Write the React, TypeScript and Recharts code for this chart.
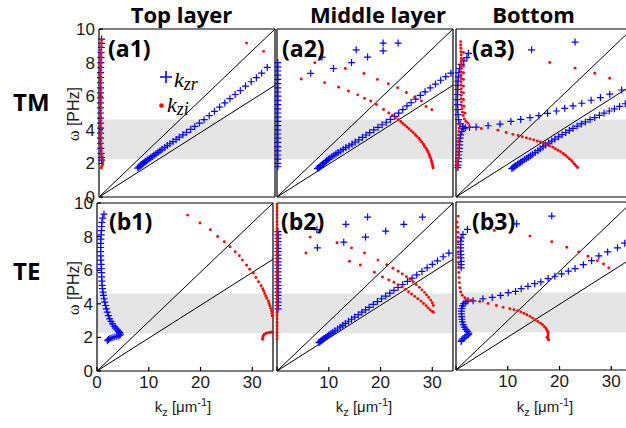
import React from "react";
import { ScatterChart, Scatter, XAxis, YAxis, ReferenceArea } from "recharts";

type Pt = [number, number]; // [kz in um^-1, omega in PHz]

const kTicks = [0, 10, 20, 30];
const omegaTicks = [0, 2, 4, 6, 8, 10];
const kDomain: [number, number] = [0, 34];
const omegaDomain: [number, number] = [0, 10];
const bandOmega: [number, number] = [2.25, 4.62];

// light lines (vacuum and substrate)
const lightLine: Pt[] = [[0, 0], [34, 10]];
const glassLine: Pt[] = [[0, 0], [34, 6.65]];

const columnTitles = ["Top layer", "Middle layer", "Bottom"];
const rowTitles = ["TM", "TE"];

// ---- (a1) top layer, TM ----
const a1Kzr: Pt[] = [
  [0.5, 9.4], [0.5, 9.15], [0.45, 8.9], [0.4, 8.6], [0.4, 8.3], [0.35, 8.0], [0.35, 7.7], [0.3, 7.4],
  [0.3, 7.1], [0.3, 6.8], [0.3, 6.5], [0.3, 6.2], [0.3, 5.9], [0.3, 5.6], [0.3, 5.3], [0.3, 5.0],
  [0.3, 4.7], [0.3, 4.4], [0.3, 4.1], [0.3, 3.8], [0.3, 3.5], [0.3, 3.2], [0.35, 2.9], [0.4, 2.6],
  [0.45, 2.35], [0.5, 2.2],
  [7.5, 1.72], [7.7, 1.78], [7.9, 1.84], [8.1, 1.9], [8.3, 1.95], [8.5, 2.0], [8.7, 2.05], [8.9, 2.1],
  [9.1, 2.15], [9.4, 2.2], [9.7, 2.27], [10.0, 2.34], [10.3, 2.41], [10.6, 2.48], [11.0, 2.57],
  [11.4, 2.66], [11.8, 2.75], [12.2, 2.84], [12.7, 2.95], [13.2, 3.06], [13.7, 3.17], [14.3, 3.3],
  [14.9, 3.43], [15.5, 3.56], [16.2, 3.7], [16.9, 3.85], [17.7, 4.02], [18.5, 4.2], [19.4, 4.4],
  [20.3, 4.6], [21.3, 4.84], [22.3, 5.1], [23.3, 5.35], [24.3, 5.6], [25.3, 5.85], [26.3, 6.1],
  [27.3, 6.34], [28.3, 6.6], [29.4, 6.86], [30.4, 7.1], [31.4, 7.37], [32.5, 7.71],
];
const a1Kzi: Pt[] = [
  [0.5, 9.35], [0.45, 9.15], [0.45, 8.95], [0.4, 8.75], [0.4, 8.55], [0.4, 8.35], [0.4, 8.15],
  [0.35, 7.95], [0.35, 7.75], [0.35, 7.55], [0.35, 7.35], [0.35, 7.15], [0.35, 6.95], [0.35, 6.75],
  [0.35, 6.55], [0.35, 6.35], [0.35, 6.15], [0.35, 5.95], [0.35, 5.75], [0.35, 5.55], [0.35, 5.35],
  [0.35, 5.15], [0.35, 4.95], [0.35, 4.75], [0.35, 4.55], [0.35, 4.35], [0.35, 4.15], [0.35, 3.95],
  [0.35, 3.75], [0.35, 3.55], [0.4, 3.35], [0.4, 3.15], [0.4, 2.95], [0.45, 2.75], [0.5, 2.55],
  [0.6, 2.4], [0.7, 2.25], [0.75, 2.1], [0.7, 1.95], [0.55, 1.82], [0.45, 1.72],
  [28.5, 9.16], [31.8, 8.67],
];

// ---- (a2) middle layer, TM ----
const a2Kzr: Pt[] = [
  [0.15, 8.0], [0.15, 7.75], [0.15, 7.5], [0.15, 7.25], [0.15, 7.0], [0.15, 6.75], [0.15, 6.5],
  [0.15, 6.25], [0.15, 6.0], [0.15, 5.75], [0.15, 5.5], [0.15, 5.25], [0.15, 5.0], [0.15, 4.75],
  [0.15, 4.5], [0.15, 4.25], [0.15, 4.0], [0.15, 3.75], [0.15, 3.5], [0.15, 3.25], [0.15, 3.0],
  [0.15, 2.75], [0.15, 2.5], [0.15, 2.25], [0.15, 2.0], [0.15, 1.8],
  [7.8, 1.69], [8.0, 1.74], [8.2, 1.79], [8.4, 1.84], [8.6, 1.89], [8.8, 1.95], [9.0, 2.0],
  [9.3, 2.08], [9.6, 2.16], [9.9, 2.24], [10.2, 2.31], [10.6, 2.4], [11.0, 2.49], [11.4, 2.57],
  [11.8, 2.65], [12.3, 2.74], [12.8, 2.84], [13.3, 2.94], [13.9, 3.04], [14.5, 3.15], [15.1, 3.27],
  [15.8, 3.4], [16.5, 3.55], [17.2, 3.69], [17.9, 3.83], [18.7, 3.99], [19.5, 4.15], [20.3, 4.3],
  [21.1, 4.45], [21.9, 4.62], [22.7, 4.8], [23.5, 4.99], [24.3, 5.2], [25.1, 5.42], [25.9, 5.62],
  [26.8, 5.83], [27.7, 6.05], [28.6, 6.26], [29.6, 6.49], [30.6, 6.72], [31.6, 6.95], [32.6, 7.16],
  [33.6, 7.37],
  [6.5, 7.36], [8.7, 8.33], [10.9, 7.65], [14.4, 8.0], [15.3, 8.76], [17.5, 8.33], [20.5, 9.16],
  [20.5, 8.7], [23.4, 9.16],
];
const a2Kzi: Pt[] = [
  [4.7, 7.02], [9.2, 6.8], [11.9, 6.54], [13.8, 6.31], [15.6, 6.08], [16.9, 5.87], [18.1, 5.71],
  [19.2, 5.51], [20.6, 5.21], [21.6, 5.0], [22.3, 4.86], [22.9, 4.72], [23.4, 4.6], [23.9, 4.49],
  [24.3, 4.38], [24.7, 4.28], [25.1, 4.17], [25.5, 4.06], [25.9, 3.95], [26.3, 3.84], [26.7, 3.72],
  [27.0, 3.61], [27.4, 3.5], [27.7, 3.38], [28.0, 3.26], [28.3, 3.14], [28.5, 3.02], [28.8, 2.9],
  [29.0, 2.78], [29.2, 2.66], [29.4, 2.54], [29.5, 2.42], [29.7, 2.3], [29.8, 2.18], [29.9, 2.06],
  [30.0, 1.94], [30.1, 1.82], [30.15, 1.72],
  [7.3, 7.99], [13.2, 7.65], [16.8, 7.35], [19.4, 7.0], [21.5, 6.74], [23.3, 6.5], [25.0, 6.22],
  [26.6, 5.95], [27.9, 5.71], [28.8, 5.39], [29.9, 5.19],
];

// ---- (a3) bottom, TM ----
const a3Kzr: Pt[] = [
  [2.4, 8.55], [2.1, 8.3], [1.5, 8.1], [1.0, 7.9], [0.7, 7.65], [0.55, 7.4], [0.45, 7.15], [0.4, 6.9],
  [0.35, 6.65], [0.35, 6.4], [0.3, 6.1], [0.3, 5.8], [0.3, 5.5], [0.35, 5.2], [0.4, 4.9], [0.5, 4.6],
  [0.8, 4.35], [1.3, 4.2], [1.8, 4.12],
  [1.4, 4.05], [1.1, 3.9], [0.9, 3.7], [0.8, 3.5], [0.7, 3.3], [0.7, 3.1], [0.65, 2.9], [0.6, 2.7],
  [0.55, 2.5], [0.5, 2.3], [0.45, 2.1], [0.4, 1.9], [0.35, 1.75],
  [2.6, 4.14], [3.9, 4.16], [6.2, 4.24], [8.5, 4.34], [10.6, 4.5], [12.5, 4.62], [14.3, 4.72],
  [16.0, 4.84], [17.7, 4.98], [19.4, 5.12], [21.0, 5.28], [22.6, 5.42], [24.3, 5.58], [26.1, 5.76],
  [27.9, 5.92], [29.7, 6.12], [32.0, 6.37], [33.8, 6.6],
  [14.6, 8.76], [23.0, 9.22],
  [10.8, 1.69], [11.0, 1.74], [11.2, 1.79], [11.4, 1.84], [11.6, 1.89], [11.9, 1.95], [12.2, 2.01],
  [12.5, 2.07], [12.8, 2.13], [13.2, 2.21], [13.6, 2.29], [14.0, 2.37], [14.4, 2.46], [14.8, 2.55],
  [15.3, 2.65], [15.8, 2.76], [16.3, 2.87], [16.8, 2.98], [17.3, 3.09], [17.9, 3.21], [18.5, 3.33],
  [19.1, 3.45], [19.8, 3.58], [20.5, 3.71], [21.2, 3.84], [21.9, 3.96], [22.6, 4.09], [23.4, 4.22],
  [24.2, 4.35], [25.0, 4.47], [25.9, 4.6], [26.8, 4.73], [27.7, 4.86], [28.6, 4.99], [29.6, 5.12],
  [30.6, 5.25], [31.6, 5.39], [32.7, 5.55], [33.8, 5.72],
];
const a3Kzi: Pt[] = [
  [0.9, 9.25], [0.9, 9.05], [0.95, 8.85], [0.95, 8.65], [1.0, 8.45], [1.0, 8.25], [1.0, 8.05],
  [1.0, 7.85], [1.0, 7.65], [1.0, 7.45], [1.0, 7.25], [1.0, 7.05], [1.0, 6.85], [1.0, 6.65],
  [1.0, 6.45], [1.0, 6.25], [1.0, 6.05], [1.0, 5.85], [1.05, 5.65], [1.1, 5.45], [1.15, 5.25],
  [1.25, 5.05], [1.4, 4.85], [1.6, 4.65], [1.9, 4.5], [2.3, 4.4],
  [1.45, 8.6], [1.45, 8.2], [1.45, 7.8], [1.45, 7.4], [1.45, 7.0], [1.45, 6.6], [1.45, 6.2],
  [1.45, 5.8], [1.55, 5.4], [1.75, 5.0],
  [0.7, 4.3], [0.6, 4.1], [0.55, 3.9], [0.5, 3.7], [0.5, 3.5], [0.45, 3.3], [0.45, 3.1], [0.4, 2.9],
  [0.4, 2.7], [0.4, 2.5], [0.35, 2.3], [0.3, 2.1], [0.3, 1.9], [0.25, 1.75],
  [2.6, 4.18], [4.9, 4.08], [8.1, 3.98], [9.7, 3.84], [11.0, 3.73], [12.0, 3.66], [12.8, 3.59],
  [13.6, 3.52], [14.3, 3.46], [15.0, 3.4], [15.7, 3.33], [16.3, 3.27], [16.9, 3.2], [17.5, 3.13],
  [18.1, 3.05], [18.7, 2.96], [19.2, 2.87], [19.7, 2.78], [20.2, 2.69], [20.7, 2.59], [21.1, 2.49],
  [21.5, 2.39], [21.9, 2.28], [22.3, 2.17], [22.6, 2.06], [22.9, 1.95], [23.2, 1.85], [23.5, 1.76],
  [8.8, 8.37], [18.1, 8.01], [23.0, 7.67], [26.8, 7.37], [29.7, 7.07],
];

// ---- (b1) top layer, TE ----
const b1Kzr: Pt[] = [
  [1.35, 9.34], [1.1, 9.1], [0.95, 8.85], [0.9, 8.6], [0.85, 8.35], [0.8, 8.1], [0.75, 7.85],
  [0.7, 7.6], [0.7, 7.35], [0.7, 7.1], [0.7, 6.85], [0.75, 6.6], [0.8, 6.35], [0.85, 6.1],
  [0.9, 5.85], [0.9, 5.6], [0.95, 5.35], [1.0, 5.1], [1.05, 4.9], [1.15, 4.7], [1.25, 4.5],
  [1.35, 4.3], [1.5, 4.1], [1.65, 3.9], [1.8, 3.7], [2.0, 3.5], [2.2, 3.3], [2.45, 3.1],
  [2.7, 2.95], [3.0, 2.8], [3.3, 2.67], [3.6, 2.55], [3.9, 2.45], [4.2, 2.36], [4.4, 2.28],
  [4.5, 2.2], [4.4, 2.13], [4.1, 2.08], [3.7, 2.05], [3.3, 2.02], [2.9, 1.98], [2.5, 1.93],
  [2.2, 1.87], [2.0, 1.8],
];
const b1Kzi: Pt[] = [
  [17.5, 9.28], [19.9, 8.81], [21.9, 8.41], [23.3, 8.01], [24.6, 7.69], [25.7, 7.4], [26.7, 7.1],
  [27.5, 6.86], [28.1, 6.6], [28.9, 6.3], [29.5, 6.06], [30.2, 5.83], [30.7, 5.57], [31.2, 5.31],
  [31.7, 5.07], [32.0, 4.9], [32.2, 4.77], [32.4, 4.62], [32.6, 4.47], [32.8, 4.32], [33.1, 4.17],
  [33.25, 4.02], [33.4, 3.88], [33.55, 3.73], [33.7, 3.58], [33.8, 3.43], [33.85, 3.28],
  [32.0, 1.89], [32.05, 1.99], [32.1, 2.09], [32.3, 2.17], [32.6, 2.23], [32.9, 2.27], [33.3, 2.29],
  [33.6, 2.31], [33.9, 2.33],
];

// ---- (b2) middle layer, TE ----
const b2Kzr: Pt[] = [
  [0.2, 8.3], [0.2, 8.1], [0.2, 7.9], [0.2, 7.7], [0.2, 7.5], [0.2, 7.3], [0.2, 7.1], [0.2, 6.9],
  [0.2, 6.7], [0.2, 6.5], [0.2, 6.3], [0.2, 6.1], [0.2, 5.9], [0.2, 5.7], [0.2, 5.5], [0.2, 5.3],
  [0.2, 5.1], [0.2, 4.9], [0.2, 4.7], [0.2, 4.5], [0.2, 4.3], [0.2, 4.1], [0.2, 3.9], [0.2, 3.7],
  [8.1, 1.69], [8.3, 1.74], [8.5, 1.79], [8.7, 1.84], [8.9, 1.89], [9.1, 1.94], [9.4, 2.0],
  [9.7, 2.07], [10.0, 2.14], [10.4, 2.22], [10.8, 2.31], [11.2, 2.4], [11.7, 2.5], [12.2, 2.61],
  [12.7, 2.72], [13.2, 2.83], [13.8, 2.96], [14.4, 3.08], [15.0, 3.21], [15.7, 3.35], [16.4, 3.5],
  [17.1, 3.64], [17.8, 3.79], [18.6, 3.96], [19.4, 4.13], [20.2, 4.3], [21.0, 4.46], [21.8, 4.63],
  [22.6, 4.8], [23.4, 4.97], [24.3, 5.15], [25.2, 5.34], [26.1, 5.53], [27.0, 5.72], [28.0, 5.93],
  [29.0, 6.14], [30.0, 6.35], [31.0, 6.56], [32.1, 6.8], [33.2, 7.02],
  [7.7, 8.41], [7.8, 7.33], [12.9, 7.67], [13.3, 8.73], [17.1, 7.97], [17.5, 9.16], [21.0, 8.33],
  [24.5, 8.73], [28.1, 9.16],
];
const b2Kzi: Pt[] = [
  [0, 9.9], [0, 9.7], [0, 9.5], [0, 9.3], [0, 9.1], [0, 8.9], [0, 8.7], [0, 8.5], [0, 8.3], [0, 8.1],
  [0, 7.9], [0, 7.7], [0, 7.5], [0, 7.3], [0, 7.1], [0, 6.9], [0, 6.7], [0, 6.5], [0, 6.3], [0, 6.1],
  [0, 5.9], [0, 5.7], [0, 5.5], [0, 5.3], [0, 5.1], [0, 4.9], [0, 4.7], [0, 4.5], [0, 4.3], [0, 4.1],
  [0, 3.9], [0, 3.7], [0, 3.5], [0, 3.3], [0, 3.1], [0, 2.9], [0, 2.7], [0, 2.5], [0, 2.3], [0, 2.1],
  [0, 1.9],
  [6.4, 7.97], [11.6, 7.63], [14.4, 7.33], [16.9, 7.03], [19.5, 6.6], [21.2, 6.32], [22.4, 6.12],
  [23.4, 5.94], [24.2, 5.78], [25.0, 5.62], [25.7, 5.46], [26.3, 5.3], [26.9, 5.14], [27.5, 4.98],
  [28.0, 4.83], [28.5, 4.68], [28.9, 4.53], [29.3, 4.38], [29.7, 4.22], [30.0, 4.06], [30.2, 3.9],
  [5.6, 7.03], [14.0, 6.53], [16.1, 6.31], [18.8, 5.88], [20.4, 5.6], [21.6, 5.42], [22.6, 5.28],
  [23.4, 5.14], [24.1, 5.0], [24.8, 4.86], [25.4, 4.72], [26.0, 4.58], [26.6, 4.44], [27.2, 4.3],
  [27.8, 4.16], [28.3, 4.02], [28.8, 3.88], [29.2, 3.76], [29.6, 3.64], [30.0, 3.54], [30.2, 3.5],
];

// ---- (b3) bottom, TE ----
const b3Kzr: Pt[] = [
  [2.2, 8.37], [1.35, 8.07], [1.0, 7.87], [0.9, 7.67], [0.9, 7.47], [0.9, 7.27], [0.9, 7.07],
  [0.95, 6.87], [0.95, 6.67], [1.0, 6.47], [1.0, 6.27], [1.0, 6.08],
  [2.3, 4.12], [1.9, 4.05], [1.5, 3.95], [1.25, 3.82], [1.1, 3.66], [1.05, 3.5], [1.05, 3.34],
  [1.1, 3.18], [1.15, 3.02], [1.25, 2.86], [1.4, 2.7], [1.6, 2.55], [1.9, 2.42], [2.2, 2.3],
  [2.5, 2.2], [2.4, 2.11], [2.1, 2.03], [1.7, 1.95], [1.35, 1.87], [1.1, 1.78], [1.0, 1.7],
  [3.3, 4.12], [5.2, 4.24], [7.0, 4.32], [8.6, 4.44], [10.1, 4.6], [11.5, 4.68], [12.6, 4.84],
  [13.9, 4.98], [15.2, 5.14], [16.4, 5.24], [17.8, 5.44], [19.1, 5.58], [20.4, 5.72], [21.7, 5.88],
  [23.0, 6.04], [24.6, 6.27], [26.2, 6.51], [27.6, 6.79], [29.3, 7.03], [31.2, 7.27], [32.6, 7.55],
  [18.5, 9.16], [11.7, 8.7],
];
const b3Kzi: Pt[] = [
  [0.4, 9.16], [0.2, 8.8], [0.3, 8.5], [0.35, 8.2], [0.4, 7.9], [0.4, 7.6], [0.45, 7.3], [0.45, 7.0],
  [0.5, 6.7], [0.5, 6.4], [0.5, 6.1], [0.55, 5.8], [0.6, 5.5], [0.65, 5.2], [0.75, 4.9], [0.9, 4.65],
  [1.2, 4.45], [1.7, 4.3], [2.3, 4.2], [3.0, 4.16],
  [4.6, 4.08], [6.2, 3.96], [7.8, 3.84], [9.1, 3.73], [10.4, 3.65], [11.2, 3.59], [11.9, 3.53],
  [12.5, 3.46], [13.1, 3.38], [13.7, 3.29], [14.3, 3.19], [14.8, 3.09], [15.3, 2.99], [15.8, 2.89],
  [16.3, 2.79], [16.7, 2.69], [17.1, 2.58], [17.4, 2.47], [17.6, 2.36], [17.75, 2.25], [17.8, 2.14],
  [17.75, 2.03], [17.6, 1.95], [17.75, 1.87], [17.9, 1.79],
  [7.4, 8.3], [14.3, 7.97], [18.5, 7.63], [21.4, 7.31], [23.7, 7.03], [25.5, 6.77], [27.3, 6.51],
  [28.5, 6.31], [29.5, 6.08],
];

const PLOT_W = 176;
const PLOT_H = 168;
const AXIS_W = 40;
const AXIS_H = 40;
const PAD_T = 12;
const PAD_R = 4;

const axisStroke = { stroke: "#000", strokeWidth: 1.2 };
const tickFont = { fontSize: 17, fontFamily: "Liberation Sans", fill: "#1a1a1a" };

const rows = (pts: Pt[]) => pts.map(([k, w]) => ({ k, w }));

const PlusMark = (props: any) => {
  const { cx, cy } = props;
  if (cx == null || cy == null) return <g />;
  const s = 3.5;
  return (
    <path
      d={`M${cx - s} ${cy}H${cx + s}M${cx} ${cy - s}V${cy + s}`}
      stroke="#0000ff"
      strokeWidth={1.2}
      fill="none"
    />
  );
};
const DotMark = (props: any) =>
  props.cx == null ? <g /> : <circle cx={props.cx} cy={props.cy} r={1.45} fill="#ff0000" />;
const NoMark = () => <g />;

type PanelProps = {
  left: number;
  top: number;
  kzr: Pt[];
  kzi: Pt[];
  showY: boolean;
  showX: boolean;
  xZero?: boolean;
};

function Panel({ left, top, kzr, kzi, showY, showX, xZero }: PanelProps) {
  return (
    <div style={{ position: "absolute", left: left - AXIS_W, top: top - PAD_T }}>
      <ScatterChart
        width={PLOT_W + AXIS_W + PAD_R}
        height={PLOT_H + PAD_T + AXIS_H}
        margin={{ top: PAD_T, right: PAD_R, bottom: 0, left: 0 }}
      >
        <XAxis
          xAxisId="b"
          type="number"
          dataKey="k"
          domain={kDomain}
          ticks={kTicks}
          interval={0}
          height={AXIS_H}
          tickSize={-4}
          tickMargin={9}
          tick={showX ? tickFont : false}
          tickFormatter={(v: number) => (v === 0 && !xZero ? "" : String(v))}
          axisLine={axisStroke}
          tickLine={axisStroke}
        />
        <XAxis
          xAxisId="t"
          type="number"
          orientation="top"
          mirror
          domain={kDomain}
          ticks={kTicks}
          interval={0}
          tickSize={4}
          tick={false}
          axisLine={axisStroke}
          tickLine={axisStroke}
        />
        <YAxis
          yAxisId="l"
          type="number"
          dataKey="w"
          domain={omegaDomain}
          ticks={omegaTicks}
          interval={0}
          width={AXIS_W}
          tickSize={-4}
          tickMargin={8}
          tick={showY ? tickFont : false}
          axisLine={axisStroke}
          tickLine={axisStroke}
        />
        <YAxis
          yAxisId="r"
          type="number"
          orientation="right"
          mirror
          domain={omegaDomain}
          ticks={omegaTicks}
          interval={0}
          tickSize={4}
          tick={false}
          axisLine={axisStroke}
          tickLine={axisStroke}
        />
        <ReferenceArea
          xAxisId="b"
          yAxisId="l"
          x1={kDomain[0]}
          x2={kDomain[1]}
          y1={bandOmega[0]}
          y2={bandOmega[1]}
          fill="#e5e5e5"
          fillOpacity={1}
          stroke="none"
        />
        <Scatter xAxisId="b" yAxisId="l" data={rows(lightLine)} line={{ stroke: "#000", strokeWidth: 1 }} shape={NoMark} isAnimationActive={false} />
        <Scatter xAxisId="b" yAxisId="l" data={rows(glassLine)} line={{ stroke: "#000", strokeWidth: 1 }} shape={NoMark} isAnimationActive={false} />
        <Scatter xAxisId="b" yAxisId="l" data={rows(kzr)} shape={PlusMark} isAnimationActive={false} />
        <Scatter xAxisId="b" yAxisId="l" data={rows(kzi)} shape={DotMark} isAnimationActive={false} />
      </ScatterChart>
    </div>
  );
}

const panels = [
  { id: "(b1)", left: 97, top: 203, kzr: b1Kzr, kzi: b1Kzi, showY: true, showX: true, xZero: true },
  { id: "(b2)", left: 277, top: 203, kzr: b2Kzr, kzi: b2Kzi, showY: false, showX: true, xZero: false },
  { id: "(b3)", left: 456, top: 202, kzr: b3Kzr, kzi: b3Kzi, showY: false, showX: true, xZero: false },
  { id: "(a1)", left: 99, top: 29, kzr: a1Kzr, kzi: a1Kzi, showY: true, showX: false, xZero: false },
  { id: "(a2)", left: 277, top: 29, kzr: a2Kzr, kzi: a2Kzi, showY: false, showX: false, xZero: false },
  { id: "(a3)", left: 456, top: 29, kzr: a3Kzr, kzi: a3Kzi, showY: false, showX: false, xZero: false },
];
const panelLabelPos: Record<string, [number, number]> = {
  "(a1)": [108, 57],
  "(a2)": [282, 57],
  "(a3)": [472, 57],
  "(b1)": [109, 230],
  "(b2)": [281, 230],
  "(b3)": [472, 230],
};

const labelFont = { fontFamily: "Open Sans", fontWeight: 700 };

export default function App() {
  return (
    <div
      style={{
        position: "absolute",
        left: 0,
        top: 0,
        width: 626,
        height: 428,
        overflow: "hidden",
        background: "#fff",
      }}
    >
      {panels.map((p) => (
        <Panel key={p.id} {...p} />
      ))}
      <svg
        width={626}
        height={428}
        style={{ position: "absolute", left: 0, top: 0, pointerEvents: "none" }}
      >
        {columnTitles.map((t, i) => (
          <text key={t} x={[181.5, 378, 533.5][i]} y={23} textAnchor="middle" fontSize={22} {...labelFont}>
            {t}
          </text>
        ))}
        {rowTitles.map((t, i) => (
          <text key={t} x={13} y={[111, 280][i]} fontSize={24} {...labelFont}>
            {t}
          </text>
        ))}
        {panels.map((p) => (
          <text
            key={p.id}
            x={panelLabelPos[p.id][0]}
            y={panelLabelPos[p.id][1]}
            fontSize={23}
            {...labelFont}
          >
            {p.id}
          </text>
        ))}
        {[114, 288].map((cy) => (
          <g key={cy} transform={`translate(79,${cy}) rotate(-90)`}>
            <text textAnchor="middle" fontSize={16} fontFamily="Liberation Sans" fill="#1a1a1a">
              <tspan fontFamily="Liberation Serif">ω</tspan> [PHz]
            </text>
          </g>
        ))}
        {[183, 364, 545].map((cx) => (
          <text key={cx} x={cx} y={412} textAnchor="middle" fontSize={15} fontFamily="Liberation Sans" fill="#1a1a1a">
            k<tspan fontSize={11} dy={4}>z</tspan>
            <tspan dy={-4}> [μm</tspan>
            <tspan fontSize={11} dy={-6}>-1</tspan>
            <tspan dy={6}>]</tspan>
          </text>
        ))}
        {/* legend in (a1) */}
        <path d="M160 77H172M166 71V83" stroke="#0000ff" strokeWidth={1.6} />
        <text x={174} y={87} fontFamily="Liberation Serif" fontStyle="italic" fontSize={22}>
          k<tspan fontSize={18} dy={3}>zr</tspan>
        </text>
        <circle cx={161.5} cy={105.5} r={2.3} fill="#ff0000" />
        <text x={167} y={111.5} fontFamily="Liberation Serif" fontStyle="italic" fontSize={22}>
          k<tspan fontSize={18} dy={3}>zi</tspan>
        </text>
      </svg>
    </div>
  );
}
